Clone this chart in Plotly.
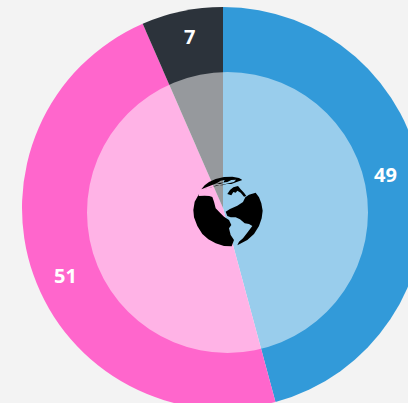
import plotly.graph_objects as go

labels = ["Blue", "Pink", "Dark"]
values = [49, 51, 7]
colors = ["#329ad9", "#ff66cc", "#2c333b"]
BG = "#f3f3f3"

W, H = 430, 412          # canvas is larger than the window; the pie runs off the edge
CX, CY, R = 223, 208, 201
OCX, OCY, OR = 227.5, 212.5, 140.5

px = lambda x: x / W
py = lambda y: 1 - y / H

# globe silhouette pieces (page pixels)
GX, GY = 174, 160
north = [(82,88),(92,76),(105,66),(125,57),(150,51),(175,50),(195,54),(205,60),(190,65),(172,72),(158,72),(145,76),
         (128,76),(112,82),(98,84)]
hole1 = [(128,70),(140,62),(152,60),(148,68),(138,72)]
hole2 = [(160,66),(172,60),(186,59),(180,66),(168,69)]
west = [(75,102),(74,108),(92,107),(106,108),(115,111),(120,125),(125,145),(138,158),(150,170),(165,180),(172,195),
        (165,205),(170,225),(180,240),(173,259),(150,258),(125,250),(103,238),(85,222),(70,198),(60,172),(58,150),(62,125)]
east = [(245,98),(255,112),(262,130),(266,152),(263,175),(255,198),(240,222),(220,240),(190,256),(195,245),(207,235),
        (222,215),(235,198),(225,192),(212,190),(198,178),(185,172),(170,172),(160,168),(155,155),(168,147),(190,137),
        (207,126),(214,112),(225,104)]
squiggle = [(160,102),(168,90),(178,82),(192,78),(200,88),(210,98),(217,108),(210,110),(200,98),(190,92),(185,98),(178,96),(172,106)]
globe = [north + north[:1] + hole1 + hole1[:1] + hole2, west, east, squiggle]

def path(points):
    return "M" + " L".join(f"{px(GX + a / 3):.5f},{py(GY + b / 3):.5f}" for a, b in points) + " Z"

shapes = [dict(type="circle", xref="paper", yref="paper",
               x0=px(OCX - OR), x1=px(OCX + OR), y0=py(OCY + OR), y1=py(OCY - OR),
               fillcolor="rgba(255,255,255,0.5)", line_width=0, layer="above")]
shapes += [dict(type="path", xref="paper", yref="paper", path=path(p),
                fillcolor="#000000", line_width=0, layer="above") for p in globe]

label_pos = [(385.5, 175), (65.5, 275), (189.5, 37)]
annotations = [dict(text=f"<b>{v}</b>", x=px(x), y=py(y), xref="paper", yref="paper", showarrow=False,
                    xanchor="center", yanchor="middle",
                    font=dict(family="Open Sans", size=20, color="#ffffff"))
               for v, (x, y) in zip(values, label_pos)]

fig = go.Figure(go.Pie(labels=labels, values=values, sort=False, direction="clockwise", rotation=0,
                       marker=dict(colors=colors, line=dict(width=0)), textinfo="none", hoverinfo="none",
                       domain=dict(x=[px(CX - R), px(CX + R)], y=[py(CY + R), py(CY - R)])))
fig.update_layout(width=W, height=H, margin=dict(l=0, r=0, t=0, b=0), autosize=False, showlegend=False,
                  paper_bgcolor=BG, shapes=shapes, annotations=annotations)
fig.write_html("out.html", config=dict(displayModeBar=False),
               post_script=f"document.documentElement.style.overflow='hidden';document.body.style.overflow='hidden';"
                           f"document.body.style.margin='0';document.body.style.background='{BG}';")
